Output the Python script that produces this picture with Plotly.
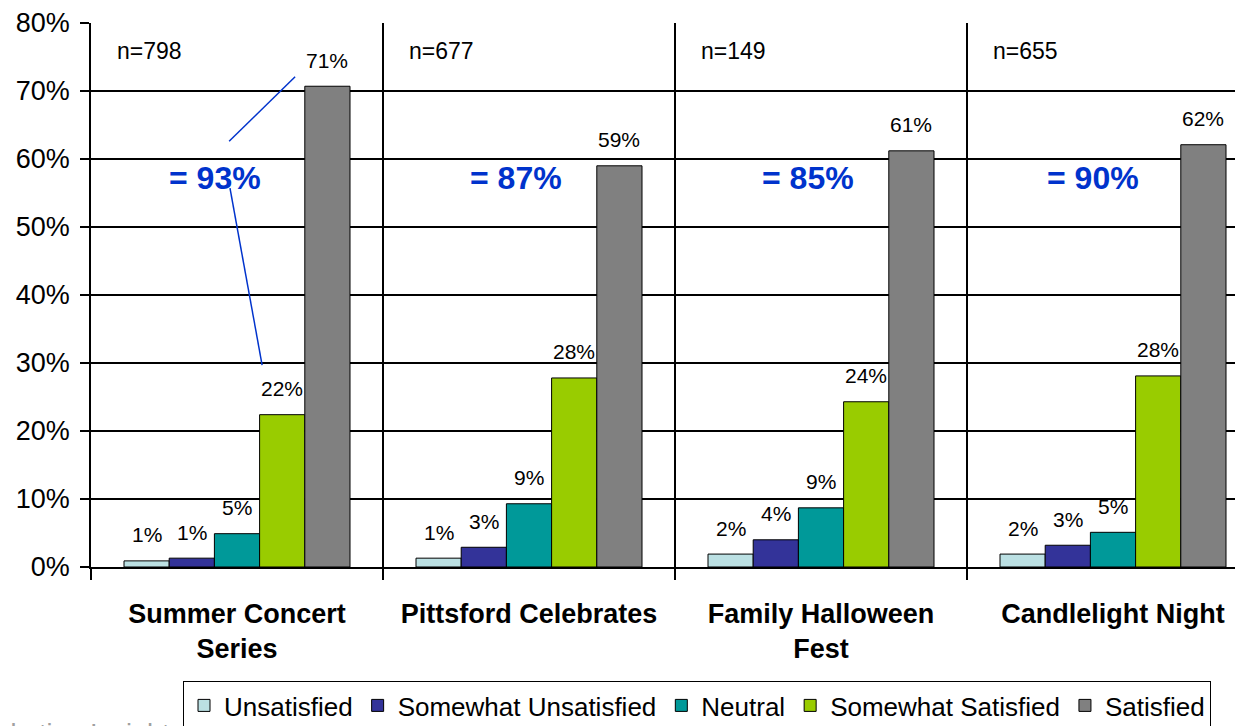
import plotly.graph_objects as go

# 데이터
events = ["Summer Concert<br>Series", "Pittsford Celebrates",
          "Family Halloween<br>Fest", "Candlelight Night"]
sample_sizes = ["n=798", "n=677", "n=149", "n=655"]
top2_labels = ["= 93%", "= 87%", "= 85%", "= 90%"]

series_names = ["Unsatisfied", "Somewhat Unsatisfied", "Neutral",
                "Somewhat Satisfied", "Satisfied"]
unsatisfied = [0.9, 1.3, 1.9, 1.9]
somewhat_unsatisfied = [1.3, 2.9, 4.0, 3.2]
neutral = [4.9, 9.3, 8.7, 5.1]
somewhat_satisfied = [22.4, 27.8, 24.3, 28.1]
satisfied = [70.7, 59.0, 61.2, 62.1]
series_values = [unsatisfied, somewhat_unsatisfied, neutral,
                 somewhat_satisfied, satisfied]
series_colors = ["#BBE0E3", "#333399", "#009999", "#99CC00", "#808080"]

FONT = "Arial, Liberation Sans, sans-serif"
BLUE = "#0033CC"
BAR_PX = 45.2  # 막대 한 개의 픽셀 폭 (라벨 위치용)

# 페이지 body 여백(8px) 보정
W, H = 1235, 718
ML, MT, MB = 83, 15, 159
PLOT_W = W - ML
PLOT_H = H - MT - MB

fig = go.Figure()

for name, vals, color in zip(series_names, series_values, series_colors):
    fig.add_trace(go.Bar(
        x=events, y=vals, name=name,
        marker=dict(color=color, line=dict(color="black", width=1)),
    ))

# 막대 위 라벨
annotations = []
for j, vals in enumerate(series_values):
    for i, v in enumerate(vals):
        annotations.append(dict(
            x=events[i], y=v, text=f"{round(v)}%", showarrow=False,
            xshift=(j - 2) * BAR_PX, yshift=26, yanchor="middle",
            font=dict(family=FONT, size=21, color="black"),
        ))

# n= 표시
for i, txt in enumerate(sample_sizes):
    annotations.append(dict(
        x=i - 0.5, y=75.9, xref="x", yref="y", text=txt, showarrow=False,
        xshift=24, xanchor="left", yanchor="middle",
        font=dict(family=FONT, size=23, color="black"),
    ))

# 만족 합계 (파란 글씨)
top2_dx = [-22, -13, -13, -20]
for i, txt in enumerate(top2_labels):
    annotations.append(dict(
        x=i, y=57.2, xref="x", yref="y", text=f"<b>{txt}</b>",
        showarrow=False, xshift=top2_dx[i], yanchor="middle",
        font=dict(family=FONT, size=32, color=BLUE),
    ))

# 워터마크 (잘린 글씨)
annotations.append(dict(
    x=(185 - 91) / PLOT_W, y=(567 - 734) / PLOT_H, xref="paper", yref="paper",
    text="Marketing Insights", showarrow=False,
    xanchor="right", yanchor="middle",
    font=dict(family=FONT, size=27, color="#A0A0A0"),
))

fig.update_layout(annotations=annotations)

# 연결선
fig.add_shape(type="line", xref="x", yref="y", x0=-0.027, y0=62.6,
              x1=0.199, y1=72.1, line=dict(color=BLUE, width=1.5))
fig.add_shape(type="line", xref="x", yref="y", x0=-0.024, y0=55.7,
              x1=0.086, y1=29.7, line=dict(color=BLUE, width=1.5))

fig.update_layout(
    barmode="group",
    bargap=0.226,
    bargroupgap=0,
    width=W, height=H,
    margin=dict(l=ML, r=0, t=MT, b=MB, autoexpand=False),
    paper_bgcolor="white",
    plot_bgcolor="white",
    font=dict(family=FONT, color="black"),
    showlegend=True,
    legend=dict(
        orientation="h", x=(183 - 91) / PLOT_W, y=(567 - 681) / PLOT_H,
        xanchor="left", yanchor="top",
        bgcolor="white", bordercolor="black", borderwidth=1,
        font=dict(family=FONT, size=26, color="black"),
        itemwidth=30, traceorder="normal",
    ),
    xaxis=dict(
        type="category", range=[-0.5, -0.5 + PLOT_W / 292], automargin=False,
        tickson="boundaries", ticks="outside", ticklen=11,
        tickcolor="black", tickwidth=1.5,
        showgrid=True, gridcolor="black", gridwidth=1.5,
        showline=True, linecolor="black", linewidth=1.5,
        tickfont=dict(family=FONT, size=27, color="black", weight="bold"),
        ticklabelstandoff=22,
    ),
    yaxis=dict(
        range=[0, 80], dtick=10, ticksuffix="%", automargin=False,
        ticks="outside", ticklen=9, tickcolor="black", tickwidth=1.5,
        showgrid=True, gridcolor="black", gridwidth=1.5,
        showline=True, linecolor="black", linewidth=1.5,
        zeroline=False,
        tickfont=dict(family=FONT, size=27, color="black"),
        ticklabelstandoff=5,
    ),
)

fig.write_html("out.html")
